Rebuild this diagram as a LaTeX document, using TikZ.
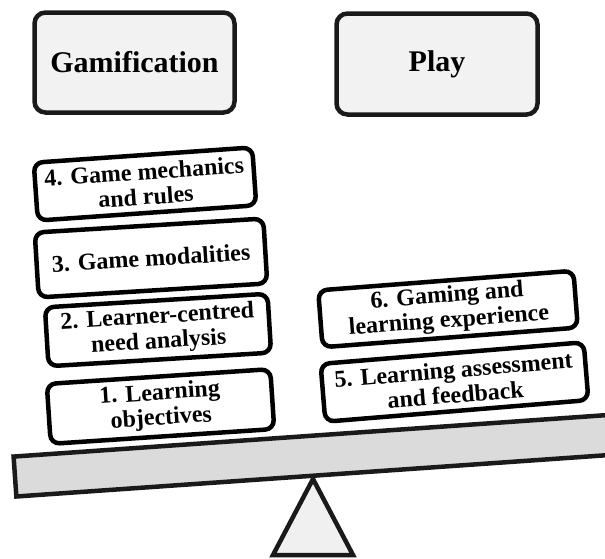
\documentclass[tikz,border=0pt]{standalone}
\usepackage{fontspec}
\newfontfamily\labelfont{Liberation Serif}
\newcommand\titlefont{\labelfont\bfseries\fontsize{30}{32}\selectfont}
\newcommand\stagefont{\labelfont\bfseries\fontsize{24}{25}\selectfont}
\definecolor{title-fill}{RGB}{242,242,242}
\definecolor{plank-fill}{RGB}{219,219,219}
\definecolor{pivot-fill}{RGB}{240,240,240}
\definecolor{edge}{RGB}{26,26,26}
\tikzset{
  title/.style = {draw=edge, line width=4.5pt, fill=title-fill,
    rounded corners=11pt, minimum width=200pt, minimum height=100pt,
    inner sep=0pt},
  stage/.style = {draw=black, line width=4.5pt, fill=white,
    rounded corners=9pt, align=center, inner sep=0pt},
  plank/.style = {draw=edge, line width=4.5pt, fill=plank-fill},
  pivot/.style = {draw=edge, line width=4.5pt, fill=pivot-fill,
    line join=miter}
}

\begin{document}
\begin{tikzpicture}[x=1pt, y=-1pt]
  \useasboundingbox (0,0) rectangle (605,558);

  %% nodes
  \node[title, font=\titlefont] (GA) at (134.5,62.5) {Gamification};
  \node[title, font=\titlefont, minimum width=201pt, minimum height=101pt]
    (PL) at (437,64) {Play};

  % left pan
  \node[stage, font=\stagefont, rotate=4, minimum width=219pt, minimum height=58pt]
    (S4) at (145,184) {4. Game mechanics\\and rules};
  \node[stage, font=\stagefont, rotate=3.5, minimum width=229pt, minimum height=65pt]
    (S3) at (151,258) {3. Game modalities};
  \node[stage, font=\stagefont, rotate=3.5, minimum width=223pt, minimum height=59pt]
    (S2) at (158,330) {2. Learner-centred\\need analysis};
  \node[stage, font=\stagefont, rotate=3.8, minimum width=224pt, minimum height=60pt]
    (S1) at (160.5,406.5) {1. Learning\\objectives};

  % right pan
  \node[stage, font=\stagefont, rotate=4.4, minimum width=256pt, minimum height=57pt]
    (S6) at (448,309) {6. Gaming and\\learning experience};
  \node[stage, font=\stagefont, rotate=4.7, minimum width=264pt, minimum height=58pt]
    (S5) at (454.5,382) {5. Learning assessment\\and feedback};

  %% seesaw
  \coordinate (TIP) at (313,479);
  \draw[pivot] (TIP) -- (273,555) -- (353,555) -- cycle;
  \node[plank, rotate=4, minimum width=640pt, minimum height=40pt]
    (PK) at (334.2,454.2) {};

\end{tikzpicture}
\end{document}
